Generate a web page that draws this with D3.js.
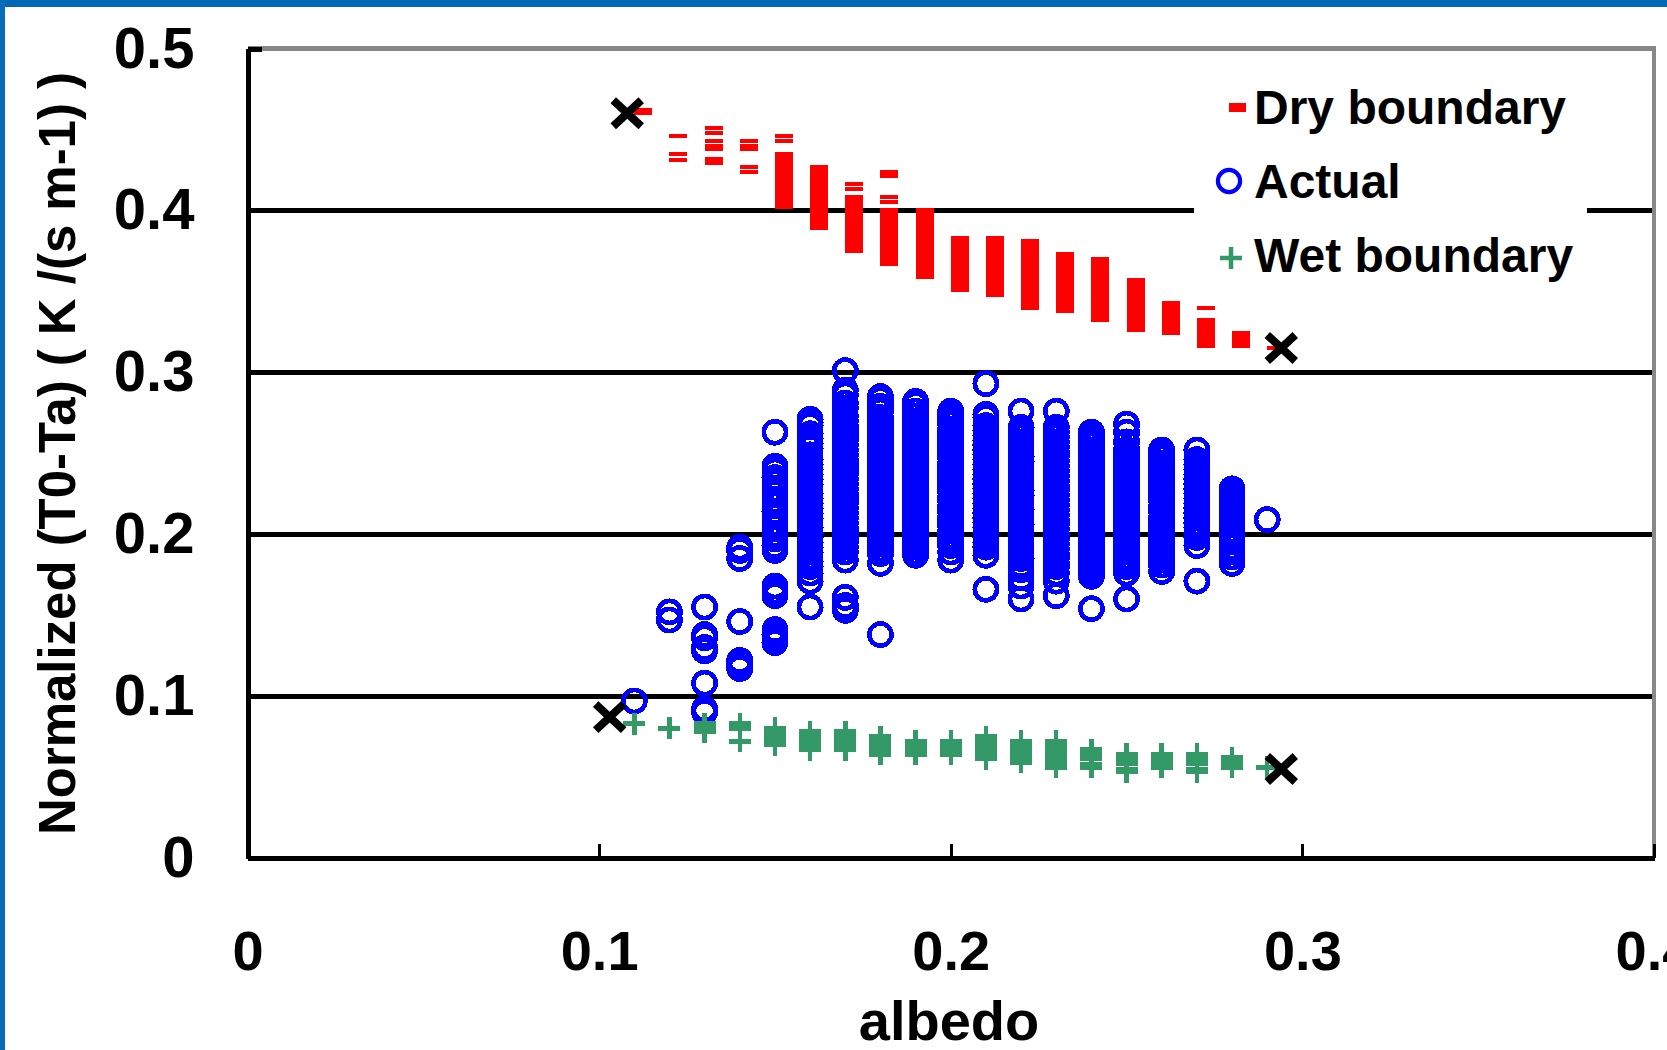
<!DOCTYPE html>
<html>
<head>
<meta charset="utf-8">
<script src="https://cdn.jsdelivr.net/npm/d3@7"></script>
<style>
body { margin: 0; background: #fff; }
svg { display: block; font-family: "Liberation Sans", Arial, sans-serif; font-weight: bold; }
</style>
</head>
<body>
<svg width="1667" height="1050"></svg>
<script>
// albedo bins (x) and the readings at each bin
var albedo = [0.11, 0.12, 0.13, 0.14, 0.15, 0.16, 0.17, 0.18, 0.19, 0.20, 0.21, 0.22, 0.23, 0.24, 0.25, 0.26, 0.27, 0.28, 0.29];

var dry = [
  [0.462, 0.460],
  [0.446, 0.435, 0.431],
  [0.451, 0.448, 0.443, 0.440, 0.438, 0.432, 0.429],
  [0.443, 0.440, 0.438, 0.427, 0.424],
  [0.446, 0.443, 0.435, 0.433, 0.431, 0.429, 0.427, 0.425, 0.423, 0.421, 0.419, 0.417, 0.415, 0.413, 0.411, 0.409, 0.407, 0.405, 0.403, 0.402],
  [0.427, 0.425, 0.423, 0.421, 0.419, 0.417, 0.415, 0.413, 0.411, 0.409, 0.407, 0.405, 0.403, 0.401, 0.399, 0.397, 0.395, 0.393, 0.391, 0.389],
  [0.416, 0.413, 0.408, 0.406, 0.404, 0.402, 0.400, 0.398, 0.396, 0.394, 0.392, 0.390, 0.388, 0.386, 0.384, 0.382, 0.380, 0.378, 0.376, 0.375],
  [0.424, 0.421, 0.408, 0.405, 0.400, 0.398, 0.396, 0.394, 0.392, 0.390, 0.388, 0.386, 0.384, 0.382, 0.380, 0.378, 0.376, 0.374, 0.372, 0.370, 0.368, 0.367],
  [0.400, 0.398, 0.396, 0.394, 0.392, 0.390, 0.388, 0.386, 0.384, 0.382, 0.380, 0.378, 0.376, 0.374, 0.372, 0.370, 0.368, 0.366, 0.364, 0.362, 0.360, 0.359],
  [0.383, 0.381, 0.379, 0.377, 0.375, 0.373, 0.371, 0.369, 0.367, 0.365, 0.363, 0.361, 0.359, 0.357, 0.355, 0.353, 0.351],
  [0.383, 0.381, 0.379, 0.377, 0.375, 0.373, 0.371, 0.369, 0.367, 0.365, 0.363, 0.361, 0.359, 0.357, 0.355, 0.353, 0.351, 0.349, 0.348],
  [0.381, 0.379, 0.377, 0.375, 0.373, 0.371, 0.369, 0.367, 0.365, 0.363, 0.361, 0.359, 0.357, 0.355, 0.353, 0.351, 0.349, 0.347, 0.345, 0.343, 0.341, 0.340],
  [0.373, 0.371, 0.369, 0.367, 0.365, 0.363, 0.361, 0.359, 0.357, 0.355, 0.353, 0.351, 0.349, 0.347, 0.345, 0.343, 0.341, 0.339, 0.338],
  [0.370, 0.368, 0.366, 0.364, 0.362, 0.360, 0.358, 0.356, 0.354, 0.352, 0.350, 0.348, 0.346, 0.344, 0.342, 0.340, 0.338, 0.336, 0.334, 0.332],
  [0.357, 0.355, 0.353, 0.351, 0.349, 0.347, 0.345, 0.343, 0.341, 0.339, 0.337, 0.335, 0.333, 0.331, 0.329, 0.327, 0.326],
  [0.343, 0.341, 0.339, 0.337, 0.335, 0.333, 0.331, 0.329, 0.327, 0.325, 0.324],
  [0.340, 0.332, 0.330, 0.328, 0.326, 0.324, 0.322, 0.320, 0.318, 0.316],
  [0.324, 0.322, 0.320, 0.318, 0.316],
  [0.315]
];

var actual = [
  [0.097],
  [0.152, 0.147],
  [0.155, 0.138, 0.136, 0.130, 0.128, 0.108, 0.092, 0.090],
  [0.192, 0.190, 0.185, 0.146, 0.122, 0.119, 0.117],
  [0.263, 0.242, 0.239, 0.235, 0.232, 0.228, 0.225, 0.221, 0.218, 0.214, 0.211, 0.207, 0.204, 0.200, 0.197, 0.193, 0.190, 0.168, 0.165, 0.162, 0.141, 0.138, 0.136, 0.133],
  [0.271, 0.269, 0.267, 0.262, 0.259, 0.256, 0.253, 0.249, 0.246, 0.243, 0.240, 0.237, 0.234, 0.231, 0.228, 0.225, 0.222, 0.219, 0.216, 0.213, 0.210, 0.207, 0.204, 0.201, 0.198, 0.195, 0.192, 0.189, 0.186, 0.183, 0.180, 0.176, 0.171, 0.155],
  [0.301, 0.289, 0.286, 0.281, 0.278, 0.273, 0.270, 0.267, 0.264, 0.261, 0.258, 0.255, 0.252, 0.249, 0.246, 0.243, 0.240, 0.237, 0.234, 0.231, 0.228, 0.225, 0.222, 0.219, 0.216, 0.213, 0.210, 0.207, 0.204, 0.201, 0.198, 0.195, 0.192, 0.189, 0.184, 0.161, 0.156, 0.153],
  [0.285, 0.283, 0.279, 0.276, 0.272, 0.269, 0.266, 0.263, 0.260, 0.257, 0.254, 0.251, 0.248, 0.245, 0.242, 0.239, 0.236, 0.233, 0.230, 0.227, 0.224, 0.221, 0.218, 0.215, 0.212, 0.209, 0.206, 0.203, 0.200, 0.197, 0.194, 0.191, 0.188, 0.182, 0.138],
  [0.282, 0.280, 0.276, 0.273, 0.270, 0.267, 0.264, 0.261, 0.258, 0.255, 0.252, 0.249, 0.246, 0.243, 0.240, 0.237, 0.234, 0.231, 0.228, 0.225, 0.222, 0.219, 0.216, 0.213, 0.210, 0.207, 0.204, 0.201, 0.198, 0.195, 0.192, 0.189, 0.187],
  [0.276, 0.274, 0.271, 0.268, 0.265, 0.262, 0.259, 0.256, 0.253, 0.250, 0.247, 0.244, 0.241, 0.238, 0.235, 0.232, 0.229, 0.226, 0.223, 0.220, 0.217, 0.214, 0.211, 0.208, 0.205, 0.202, 0.199, 0.196, 0.193, 0.189, 0.184],
  [0.293, 0.274, 0.272, 0.267, 0.264, 0.261, 0.258, 0.255, 0.252, 0.249, 0.246, 0.243, 0.240, 0.237, 0.234, 0.231, 0.228, 0.225, 0.222, 0.219, 0.216, 0.213, 0.210, 0.207, 0.204, 0.201, 0.198, 0.195, 0.192, 0.187, 0.166],
  [0.276, 0.266, 0.263, 0.260, 0.257, 0.254, 0.251, 0.248, 0.245, 0.242, 0.239, 0.236, 0.233, 0.230, 0.227, 0.224, 0.221, 0.218, 0.215, 0.212, 0.209, 0.206, 0.203, 0.200, 0.197, 0.194, 0.191, 0.188, 0.185, 0.181, 0.178, 0.173, 0.168, 0.160],
  [0.276, 0.266, 0.263, 0.260, 0.257, 0.254, 0.251, 0.248, 0.245, 0.242, 0.239, 0.236, 0.233, 0.230, 0.227, 0.224, 0.221, 0.218, 0.215, 0.212, 0.209, 0.206, 0.203, 0.200, 0.197, 0.194, 0.191, 0.188, 0.185, 0.182, 0.180, 0.176, 0.171, 0.162],
  [0.263, 0.261, 0.258, 0.255, 0.252, 0.249, 0.246, 0.243, 0.240, 0.237, 0.234, 0.231, 0.228, 0.225, 0.222, 0.219, 0.216, 0.213, 0.210, 0.207, 0.204, 0.201, 0.198, 0.195, 0.192, 0.189, 0.186, 0.183, 0.180, 0.177, 0.174, 0.154],
  [0.268, 0.263, 0.257, 0.252, 0.249, 0.246, 0.243, 0.240, 0.237, 0.234, 0.231, 0.228, 0.225, 0.222, 0.219, 0.216, 0.213, 0.210, 0.207, 0.204, 0.201, 0.198, 0.195, 0.192, 0.189, 0.186, 0.183, 0.180, 0.176, 0.160],
  [0.252, 0.250, 0.247, 0.244, 0.241, 0.238, 0.235, 0.232, 0.229, 0.226, 0.223, 0.220, 0.217, 0.214, 0.211, 0.208, 0.205, 0.202, 0.199, 0.196, 0.193, 0.190, 0.187, 0.184, 0.181, 0.177],
  [0.252, 0.246, 0.243, 0.240, 0.237, 0.234, 0.231, 0.228, 0.225, 0.222, 0.219, 0.216, 0.213, 0.210, 0.207, 0.204, 0.201, 0.198, 0.193, 0.171],
  [0.228, 0.225, 0.222, 0.219, 0.216, 0.212, 0.209, 0.206, 0.202, 0.199, 0.196, 0.192, 0.189, 0.186, 0.182],
  [0.209]
];

var wet = [
  [0.083],
  [0.080],
  [0.083, 0.080, 0.078],
  [0.083, 0.080, 0.072],
  [0.080, 0.078, 0.076, 0.074, 0.072, 0.070],
  [0.078, 0.076, 0.074, 0.072, 0.070, 0.067],
  [0.078, 0.076, 0.074, 0.072, 0.069, 0.067],
  [0.075, 0.073, 0.071, 0.069, 0.066, 0.064],
  [0.072, 0.070, 0.068, 0.066, 0.064],
  [0.072, 0.070, 0.068, 0.066, 0.064],
  [0.075, 0.073, 0.071, 0.069, 0.067, 0.065, 0.063, 0.061],
  [0.072, 0.070, 0.068, 0.066, 0.064, 0.062, 0.059],
  [0.072, 0.070, 0.068, 0.066, 0.064, 0.061, 0.059, 0.056],
  [0.067, 0.065, 0.063, 0.061, 0.058, 0.056],
  [0.064, 0.062, 0.060, 0.058, 0.055, 0.053],
  [0.064, 0.062, 0.060, 0.058, 0.056],
  [0.064, 0.062, 0.060, 0.058, 0.055, 0.053],
  [0.062, 0.059, 0.056],
  [0.056]
];

// end points of the two boundaries (black x)
var endX = [0.108, 0.294, 0.103, 0.294];
var endY = [0.460, 0.315, 0.087, 0.055];

var xTicks = [0, 0.1, 0.2, 0.3, 0.4];
var yTicks = [0, 0.1, 0.2, 0.3, 0.4, 0.5];
var legendLabels = ["Dry boundary", "Actual", "Wet boundary"];

var svg = d3.select("svg");
var plotL = 247.5, plotR = 1654, plotT = 48.5, plotB = 858;

var x = d3.scaleLinear().domain([0, 0.4]).range([plotL, plotR]);
var y = d3.scaleLinear().domain([0, 0.5]).range([plotB, plotT]);
var fmt = function(d) { return d === 0 ? "0" : d3.format(".1f")(d); };

// frame of the slide
svg.append("rect").attr("x", 0).attr("y", 0).attr("width", 1667).attr("height", 7).attr("fill", "#0068b4");
svg.append("rect").attr("x", 0).attr("y", 0).attr("width", 5).attr("height", 1050).attr("fill", "#0a6cb8");

// gridlines
var grid = svg.append("g").attr("transform", "translate(" + plotL + ",0)")
  .call(d3.axisLeft(y).tickValues([0.1, 0.2, 0.3, 0.4]).tickSize(-(plotR - plotL)).tickFormat(""));
grid.select(".domain").remove();
grid.selectAll("line").attr("stroke", "#000").attr("stroke-width", 5).attr("shape-rendering", "crispEdges");

// plot area border (top, right)
svg.append("line").attr("x1", plotL).attr("x2", plotR + 2).attr("y1", plotT).attr("y2", plotT)
  .attr("stroke", "#888").attr("stroke-width", 5).attr("shape-rendering", "crispEdges");
svg.append("line").attr("x1", plotR).attr("x2", plotR).attr("y1", plotT - 2).attr("y2", plotB)
  .attr("stroke", "#888").attr("stroke-width", 4).attr("shape-rendering", "crispEdges");

// y axis
var yAxis = svg.append("g").attr("transform", "translate(" + plotL + ",0)")
  .call(d3.axisLeft(y).tickValues(yTicks).tickSize(-14).tickSizeOuter(0).tickPadding(53).tickFormat(fmt));
yAxis.select(".domain").attr("stroke", "#000").attr("stroke-width", 5).attr("shape-rendering", "crispEdges");
yAxis.selectAll("line").attr("stroke", "#000").attr("stroke-width", 5).attr("shape-rendering", "crispEdges");
yAxis.selectAll("text").attr("font-size", 58).attr("font-family", "Liberation Sans, Arial, sans-serif")
  .attr("font-weight", "bold").attr("fill", "#000");

// x axis
var xAxis = svg.append("g").attr("transform", "translate(0," + plotB + ")")
  .call(d3.axisBottom(x).tickValues(xTicks).tickSize(-14).tickSizeOuter(0).tickPadding(72).tickFormat(fmt));
xAxis.select(".domain").attr("stroke", "#000").attr("stroke-width", 5).attr("shape-rendering", "crispEdges");
xAxis.selectAll("line").attr("stroke", "#000").attr("stroke-width", 3).attr("shape-rendering", "crispEdges");
xAxis.selectAll("text").attr("font-size", 56).attr("font-family", "Liberation Sans, Arial, sans-serif")
  .attr("font-weight", "bold").attr("fill", "#000");

// axis titles
svg.append("text").attr("x", 949).attr("y", 1040).attr("text-anchor", "middle")
  .attr("font-size", 56).text("albedo");
svg.append("text").attr("transform", "translate(75,453.5) rotate(-90)").attr("text-anchor", "middle")
  .attr("font-size", 52).attr("textLength", 763).attr("lengthAdjust", "spacingAndGlyphs")
  .text("Normalized (T0-Ta) ( K /(s m-1) )");

function flat(series) {
  var out = [];
  albedo.forEach(function(a, i) {
    series[i].forEach(function(v) { out.push({ a: a, v: v }); });
  });
  return out;
}

var marks = svg.append("g");

// dry boundary: short dashes
marks.selectAll(".dry").data(flat(dry)).enter().append("rect")
  .attr("class", "dry")
  .attr("x", function(d) { return x(d.a); })
  .attr("y", function(d) { return y(d.v) - 2; })
  .attr("width", 18).attr("height", 4)
  .attr("fill", "#ff0000").attr("shape-rendering", "crispEdges");

// actual: hollow circles
marks.selectAll(".act").data(flat(actual)).enter().append("circle")
  .attr("class", "act")
  .attr("cx", function(d) { return x(d.a); })
  .attr("cy", function(d) { return y(d.v); })
  .attr("r", 11.1)
  .attr("fill", "none").attr("stroke", "#0000ff").attr("stroke-width", 4.7)
  .attr("shape-rendering", "crispEdges");

// wet boundary: plus signs
marks.selectAll(".wet").data(flat(wet)).enter().append("path")
  .attr("class", "wet")
  .attr("transform", function(d) { return "translate(" + x(d.a) + "," + y(d.v) + ")"; })
  .attr("d", "M-11,0H11M0,-11V11")
  .attr("stroke", "#339966").attr("stroke-width", 4.5).attr("shape-rendering", "crispEdges");

// end markers
marks.selectAll(".end").data(endX).enter().append("path")
  .attr("class", "end")
  .attr("transform", function(d, i) { return "translate(" + x(d) + "," + y(endY[i]) + ")"; })
  .attr("d", "M-14,-13L14,13M14,-13L-14,13")
  .attr("stroke", "#000").attr("stroke-width", 8);

// legend
var lg = svg.append("g");
lg.append("rect").attr("x", 1194).attr("y", 72).attr("width", 393).attr("height", 220).attr("fill", "#fff");
var rowY = d3.scalePoint().domain(legendLabels).range([107, 255]);
var item = lg.selectAll(".item").data(legendLabels).enter().append("g")
  .attr("class", "item")
  .attr("transform", function(d) { return "translate(1229," + rowY(d) + ")"; });
item.append("text").attr("x", 25).attr("y", 17).attr("font-size", 48).attr("fill", "#000")
  .text(function(d) { return d; });
item.filter(function(d, i) { return i === 0; }).append("rect")
  .attr("x", 0).attr("y", -4).attr("width", 17).attr("height", 9).attr("fill", "#ff0000");
item.filter(function(d, i) { return i === 1; }).append("circle")
  .attr("r", 11.1).attr("fill", "none").attr("stroke", "#0000ff").attr("stroke-width", 4.2);
item.filter(function(d, i) { return i === 2; }).append("path")
  .attr("transform", "translate(2,3)")
  .attr("d", "M-11,0H11M0,-11V11").attr("stroke", "#339966").attr("stroke-width", 4.5);
</script>
</body>
</html>
